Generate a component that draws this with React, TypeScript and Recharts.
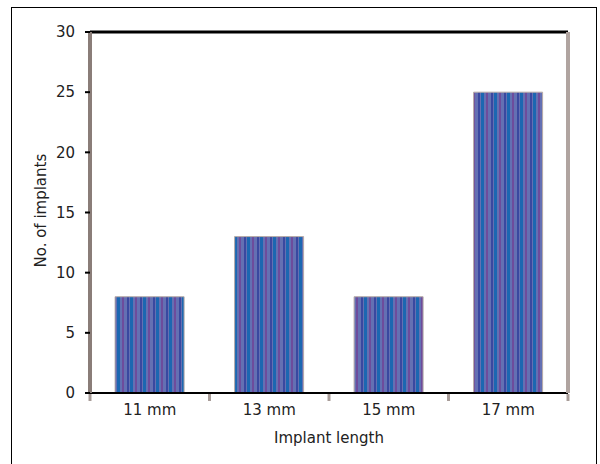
import React from "react";
import { Bar, BarChart, ReferenceLine, XAxis, YAxis } from "recharts";

const lengths = ["11 mm", "13 mm", "15 mm", "17 mm"];
const implantCounts = [8, 13, 8, 25];
const yTicks = [0, 5, 10, 15, 20, 25, 30];

const data = lengths.map((length, i) => ({ length, count: implantCounts[i] }));

const font = { fontFamily: "DejaVu Sans", fontSize: 15, fill: "#222" };

// category tick: label in the band centre, tick marks on the band edges (Excel style)
function LengthTick(props: any) {
  const { x, y, payload, index } = props;
  const half = payload.offset || 0;
  const mark = (px: number) => (
    <line x1={px} x2={px} y1={y - 1} y2={y + 6} stroke="#a89c98" strokeWidth={3} />
  );
  return (
    <g>
      {mark(x - half)}
      {index === lengths.length - 1 && mark(x + half)}
      <text x={x} y={y + 9} dy="0.71em" textAnchor="middle" style={font}>
        {payload.value}
      </text>
    </g>
  );
}

export default function App() {
  return (
    <div style={{ position: "absolute", left: 0, top: 0, width: 600, height: 464, background: "#fff" }}>
      <div
        style={{
          position: "absolute",
          left: 11,
          top: 7,
          width: 586,
          height: 470,
          border: "1px solid #000",
          boxSizing: "border-box",
        }}
      />
      <div style={{ position: "absolute", left: 0, top: 0 }}>
        <BarChart
          width={600}
          height={464}
          data={data}
          margin={{ top: 32, right: 26, bottom: 41, left: 30 }}
          barCategoryGap="21%"
        >
          <defs>
            <pattern id="stripes" patternUnits="userSpaceOnUse" width="13" height="10">
              <rect x="0" y="0" width="13" height="10" fill="#6470b3" />
              <rect x="0" y="0" width="3" height="10" fill="#1c67b1" />
              <rect x="5" y="0" width="2" height="10" fill="#6d4c9c" />
              <rect x="10" y="0" width="2" height="10" fill="#3a48a0" />
            </pattern>
          </defs>
          <XAxis
            dataKey="length"
            tickLine={false}
            tickSize={0}
            axisLine={{ stroke: "#000", strokeWidth: 2 }}
            tick={<LengthTick />}
            interval={0}
            height={30}
            label={{ value: "Implant length", position: "insideBottom", offset: -20, style: font }}
          />
          <YAxis
            domain={[0, 30]}
            ticks={yTicks}
            tickSize={5}
            tickMargin={10}
            tickLine={{ stroke: "#000", strokeWidth: 2 }}
            axisLine={{ stroke: "#8a7d78", strokeWidth: 4 }}
            tick={font}
            width={60}
            label={{ value: "No. of implants", angle: -90, position: "insideLeft", dx: 6, dy: 55, style: font }}
          />
          <YAxis
            yAxisId="right"
            orientation="right"
            domain={[0, 30]}
            tick={false}
            tickLine={false}
            axisLine={{ stroke: "#b0a4a0", strokeWidth: 4 }}
            width={6}
          />
          <ReferenceLine y={30} stroke="#000" strokeWidth={3} />
          <Bar dataKey="count" fill="url(#stripes)" stroke="#b8aca8" strokeWidth={1} isAnimationActive={false} />
        </BarChart>
      </div>
    </div>
  );
}
